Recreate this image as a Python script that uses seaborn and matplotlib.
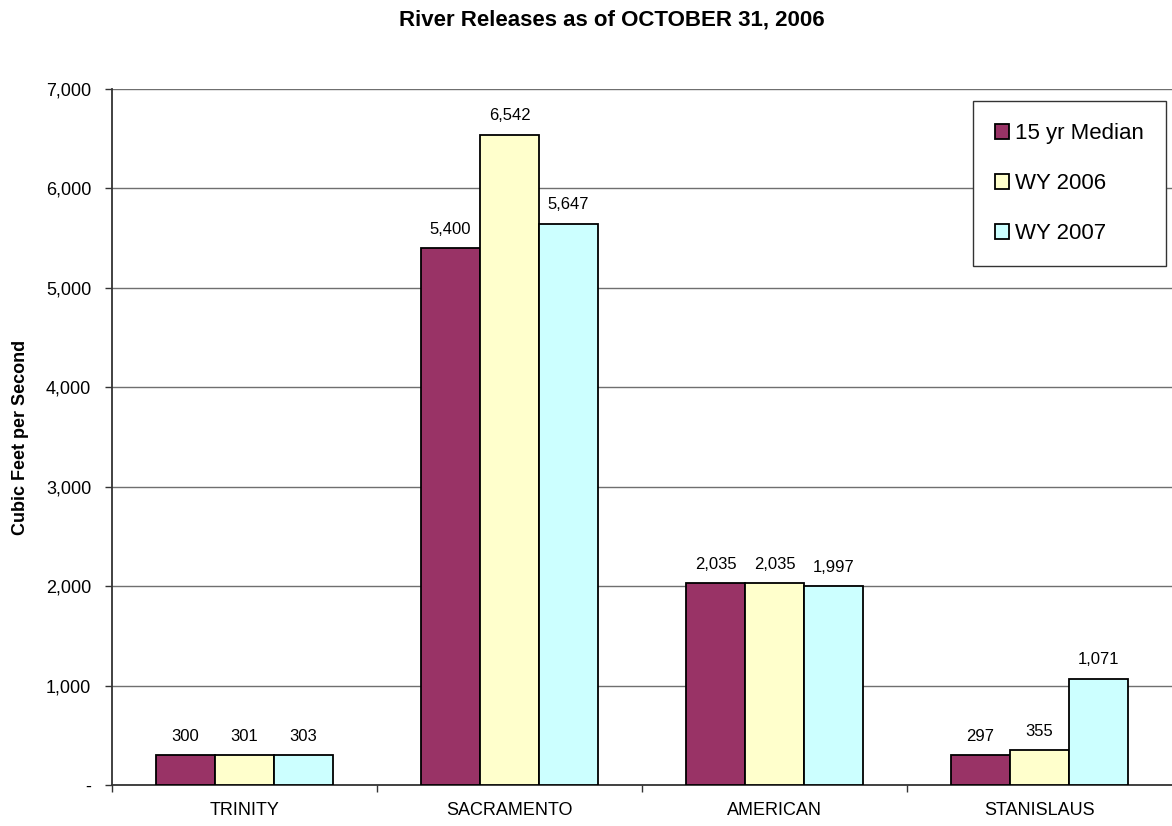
import matplotlib
matplotlib.use('Agg')
import matplotlib.pyplot as plt
import seaborn as sns
import pandas as pd
from matplotlib.ticker import FuncFormatter, FixedLocator

# ── data ─────────────────────────────────────────────────────────────────────
RIVERS   = ["TRINITY", "SACRAMENTO", "AMERICAN", "STANISLAUS"]
SERIES   = ["15 yr Median", "WY 2006", "WY 2007"]
MEDIAN   = [300, 5400, 2035, 297]
WY2006   = [301, 6542, 2035, 355]
WY2007   = [303, 5647, 1997, 1071]
COLORS   = ["#993366", "#FFFFCC", "#CCFFFF"]
YTICKS   = [0, 1000, 2000, 3000, 4000, 5000, 6000, 7000]

df = pd.DataFrame({
    "river":  RIVERS * 3,
    "series": [SERIES[0]] * 4 + [SERIES[1]] * 4 + [SERIES[2]] * 4,
    "cfs":    MEDIAN + WY2006 + WY2007,
})

sns.set_theme(style="white")
plt.rcParams['font.family'] = ['Liberation Sans', 'DejaVu Sans']
plt.rcParams.update({'text.color': 'black', 'axes.labelcolor': 'black',
                     'xtick.color': 'black', 'ytick.color': 'black'})

fig = plt.figure(figsize=(11.72, 8.26), dpi=100)
ax = fig.add_axes([112 / 1172, 1 - 785 / 826, 1 - 112 / 1172, (785 - 89) / 826])

sns.barplot(data=df, x="river", y="cfs", hue="series", order=RIVERS,
            hue_order=SERIES, palette=COLORS, saturation=1, width=2 / 3,
            gap=0, edgecolor="black", linewidth=1.3, ax=ax, zorder=3)

for cont in ax.containers:
    ax.bar_label(cont, labels=[f"{v:,.0f}" for v in cont.datavalues],
                 padding=8, fontsize=12, color="black")

# ── axes ─────────────────────────────────────────────────────────────────────
ax.set_xlim(-0.5, 3.5)
ax.set_ylim(0, 7000)
ax.set_yticks(YTICKS)
ax.yaxis.set_major_formatter(FuncFormatter(lambda v, p: "-" if v == 0 else f"{v:,.0f}"))
ax.yaxis.grid(True, color="#6f6f6f", linewidth=1.0, zorder=0)
ax.set_axisbelow(True)

ax.tick_params(axis="y", which="major", direction="out", length=5, width=1,
               color="#333333", labelsize=13, pad=10, left=True)
ax.tick_params(axis="x", which="major", length=0, labelsize=13, pad=12)
ax.xaxis.set_minor_locator(FixedLocator([-0.5, 0.5, 1.5, 2.5]))
ax.tick_params(axis="x", which="minor", direction="out", length=5, width=1,
               color="#333333", bottom=True)

for s in ["top", "right"]:
    ax.spines[s].set_visible(False)
for s in ["left", "bottom"]:
    ax.spines[s].set_color("#333333")
    ax.spines[s].set_linewidth(1.3)

ax.set_xlabel("")
ax.set_ylabel("Cubic Feet per Second", fontsize=13, fontweight="bold")
ax.yaxis.set_label_coords(-0.078, 0.5)

fig.text(612 / 1172, 1 - 20 / 826, "River Releases as of OCTOBER 31, 2006",
         ha="center", va="center", fontsize=16, fontweight="bold")

leg = ax.legend(loc="upper right", bbox_to_anchor=(1166 / 1172, 1 - 101 / 826),
                bbox_transform=fig.transFigure, borderaxespad=0, fontsize=16,
                frameon=True, fancybox=False, framealpha=1, edgecolor="#333333",
                handlelength=0.65, handleheight=0.65, handletextpad=0.25,
                labelspacing=1.3, borderpad=1.0, title=None)
leg.get_frame().set_linewidth(1.0)
for h in leg.legend_handles:
    h.set_edgecolor("black")
    h.set_linewidth(1.3)

fig.savefig("out.png", dpi=100)
